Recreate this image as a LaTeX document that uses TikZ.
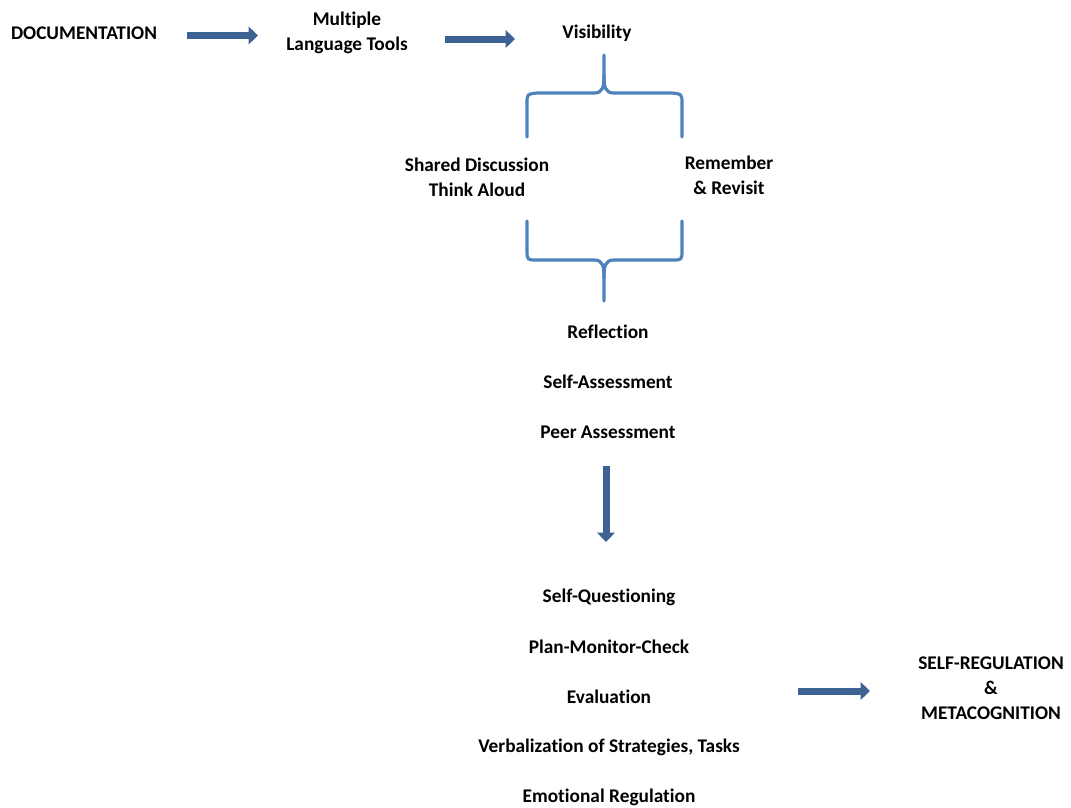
\documentclass[tikz,border=0pt]{standalone}
\usepackage{fontspec}
\setmainfont{Carlito}[Ligatures={NoCommon}]
\usetikzlibrary{arrows.meta}
\definecolor{arrowblue}{RGB}{60,97,146}
\definecolor{braceblue}{RGB}{79,129,189}
\begin{document}
\begin{tikzpicture}[x=0.75pt,y=-0.75pt,
  lbl/.style={font=\fontsize{14.5}{18.75}\selectfont\bfseries, align=center, inner sep=0pt, text=black},
  fat/.style={draw=arrowblue, line width=5.25pt, -{Triangle[length=7pt,width=13pt]}},
  brace/.style={draw=braceblue, line width=2.4pt, line cap=round}]
\useasboundingbox (0,0) rectangle (1071,807);

% top row
\node[lbl] (doc) at (84,33) {DOCUMENTATION};
\node[lbl] (mlt) at (347,33) {Multiple\\Language Tools};
\node[lbl] (vis) at (597,33) {Visibility};

% middle labels
\node[lbl] (sd) at (477,177) {Shared Discussion\\Think Aloud};
\node[lbl] (rr) at (729,175) {Remember\\\& Revisit};

\node[lbl] (refl) at (608,332) {Reflection};
\node[lbl] (sa) at (608,382) {Self-Assessment};
\node[lbl] (pa) at (608,432) {Peer Assessment};

\node[lbl] (sq) at (609,597) {Self-Questioning};
\node[lbl] (pmc) at (609,647) {Plan-Monitor-Check};
\node[lbl] (ev) at (609,697) {Evaluation};
\node[lbl] (vst) at (609,747) {Verbalization of Strategies, Tasks};
\node[lbl] (er) at (609,797) {Emotional Regulation};

\node[lbl] (srm) at (991,688) {SELF-REGULATION\\\&\\METACOGNITION};

% arrows
\coordinate (a1s) at (187,35.5);
\coordinate (a1e) at (258,35.5);
\coordinate (a2s) at (445,39);
\coordinate (a2e) at (515,39);
\coordinate (a3s) at (606,466);
\coordinate (a3e) at (606,542);
\coordinate (a4s) at (798,691);
\coordinate (a4e) at (870,691);
\draw[fat] (a1s) -- (a1e);
\draw[fat] (a2s) -- (a2e);
\draw[fat] (a3s) -- (a3e);
\draw[fat] (a4s) -- (a4e);

% top brace
\draw[brace] (527,137) -- (527,104) .. controls (527,94) .. (537,93)
  -- (594,93) .. controls (603,93) and (604,87) .. (604,75) -- (604,55);
\draw[brace] (682,137) -- (682,104) .. controls (682,94) .. (672,93)
  -- (614,93) .. controls (605,93) and (604,87) .. (604,75);

% bottom brace
\draw[brace] (527,221) -- (527,250) .. controls (527,260) .. (537,260)
  -- (594,260) .. controls (603,260) and (604,266) .. (604,278) -- (604,301);
\draw[brace] (682,221) -- (682,250) .. controls (682,260) .. (672,260)
  -- (614,260) .. controls (605,260) and (604,266) .. (604,278);
\end{tikzpicture}
\end{document}
